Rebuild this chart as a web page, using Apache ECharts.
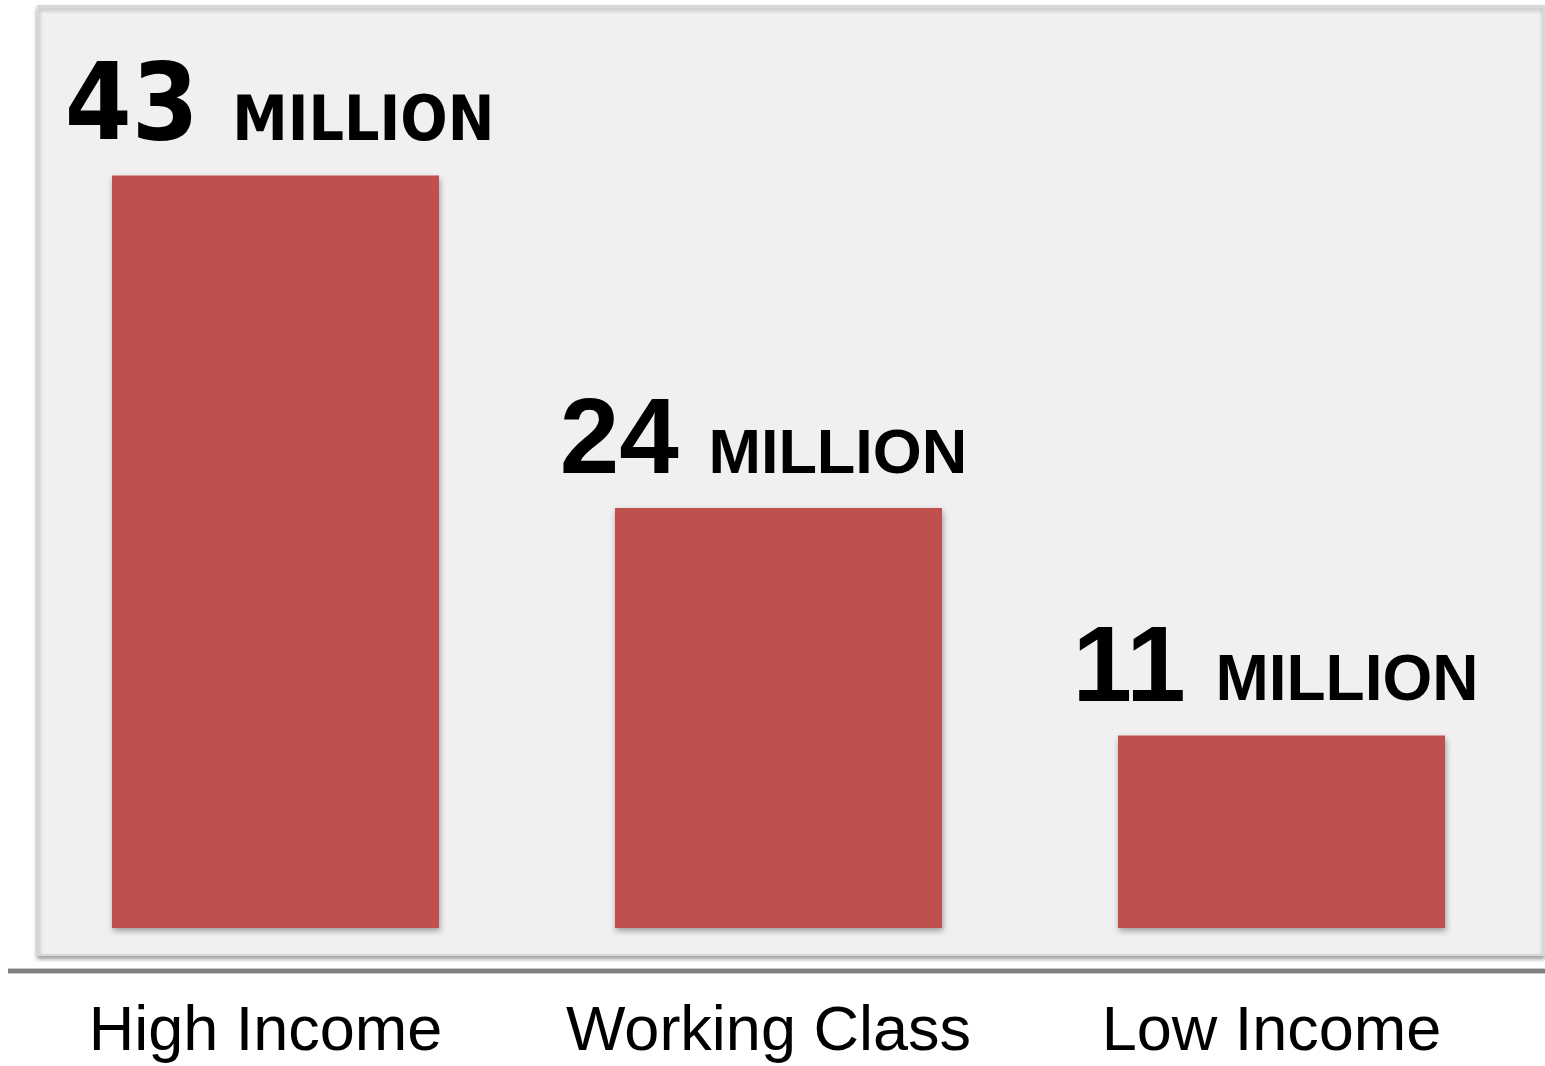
<!DOCTYPE html>
<html>
<head>
<meta charset="utf-8">
<script src="https://cdn.jsdelivr.net/npm/echarts@6/dist/echarts.min.js"></script>
<style>
html,body{margin:0;padding:0;background:#fff;}
#chart{width:1545px;height:1066px;}
</style>
</head>
<body>
<div id="chart"></div>
<script>
const categories = ['High Income', 'Working Class', 'Low Income'];
const values = [43, 24, 11];
const unitLabel = 'MILLION';

const labelFonts = [
  'DejaVu Sans Condensed, DejaVu Sans, sans-serif',
  'Liberation Sans, Arial, sans-serif',
  'Liberation Sans, Arial, sans-serif'
];
const labelUnitSizes = [62, 63, 64];
const labelOffsets = [[4, 0], [-15, 0], [-6, 0]];

const chart = echarts.init(document.getElementById('chart'));

const seriesData = values.map((v, i) => ({
  value: v,
  label: {
    offset: labelOffsets[i],
    rich: {
      num: {
        fontFamily: labelFonts[i], fontWeight: 'bold', fontSize: 107,
        lineHeight: 107, verticalAlign: 'bottom', color: '#000'
      },
      unit: {
        fontFamily: labelFonts[i], fontWeight: 'bold', fontSize: labelUnitSizes[i],
        verticalAlign: 'bottom', padding: [0, 0, 10, 0], color: '#000'
      }
    }
  }
}));

const option = {
  backgroundColor: '#ffffff',
  animation: false,
  graphic: [
    {
      type: 'rect', z: 0,
      shape: { x: 38, y: 6, width: 1506, height: 949 },
      style: {
        fill: '#f0f0f0', stroke: '#d8d8d8', lineWidth: 2,
        shadowBlur: 4, shadowOffsetY: 3, shadowColor: 'rgba(0,0,0,0.35)'
      }
    },
    {
      type: 'rect', z: 0,
      shape: { x: 8, y: 968, width: 1537, height: 6 },
      style: { fill: '#c8c8c8' }
    },
    {
      type: 'rect', z: 0,
      shape: { x: 8, y: 969, width: 1537, height: 4 },
      style: { fill: '#808080' }
    }
  ],
  grid: { left: 24, right: 12, top: 53, bottom: 138 },
  xAxis: {
    type: 'category',
    data: categories,
    axisLine: { show: false },
    axisTick: { show: false },
    splitLine: { show: false },
    axisLabel: {
      interval: 0,
      hideOverlap: false,
      margin: 73,
      fontFamily: 'Liberation Sans, Arial, sans-serif',
      fontSize: 63,
      color: '#000',
      padding: [0, 20, 0, 0]
    }
  },
  yAxis: {
    type: 'value', min: 0, max: 50, show: false,
    splitLine: { show: false }
  },
  series: [{
    type: 'bar',
    data: seriesData,
    barWidth: 327,
    itemStyle: {
      color: '#C0504D',
      shadowBlur: 6, shadowOffsetX: 1, shadowOffsetY: 3,
      shadowColor: 'rgba(0,0,0,0.35)'
    },
    label: {
      show: true,
      position: 'top',
      distance: 11,
      formatter: p => `{num|${p.value} }{unit|${unitLabel}}`
    }
  }]
};
chart.setOption(option);
</script>
</body>
</html>
